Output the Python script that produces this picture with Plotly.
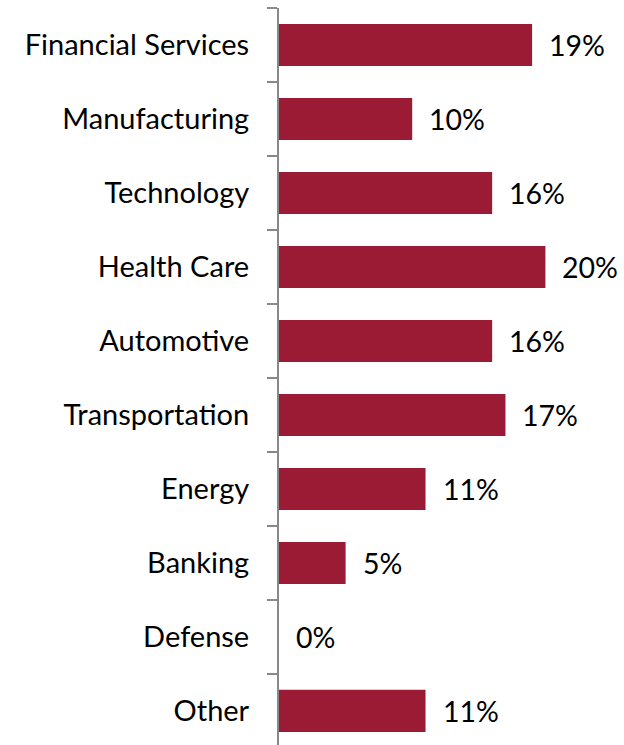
import plotly.graph_objects as go

categories = ["Financial Services", "Manufacturing", "Technology", "Health Care",
              "Automotive", "Transportation", "Energy", "Banking", "Defense", "Other"]
shares = [19, 10, 16, 20, 16, 17, 11, 5, 0, 11]
share_labels = [f"{v}%" for v in shares]

BAR_COLOR = "#9B1A34"
FONT = "Lato"
SIZE = 29

fig = go.Figure(go.Bar(
    x=shares,
    y=categories,
    orientation="h",
    marker=dict(color=BAR_COLOR, line=dict(width=0)),
    hoverinfo="skip",
))

for cat, val, lab in zip(categories, shares, share_labels):
    fig.add_annotation(
        x=val, y=cat, text=lab, showarrow=False,
        xanchor="left", yanchor="middle", xshift=15,
        font=dict(family=FONT, size=28.5, color="#000000"),
    )

fig.update_layout(
    width=624, height=745,
    margin=dict(l=279, r=0, t=8, b=0),
    paper_bgcolor="white", plot_bgcolor="white",
    bargap=0.43,
    showlegend=False,
    font=dict(family=FONT, size=SIZE, color="#000000"),
)
fig.update_xaxes(range=[0, 25.9], visible=False, showgrid=False, zeroline=False)
fig.update_yaxes(
    categoryorder="array", categoryarray=categories[::-1],
    range=[-0.46, 9.5],
    showline=True, linecolor="#888888", linewidth=2,
    ticks="outside", tickson="boundaries", ticklen=10, tickwidth=2, tickcolor="#888888",
    ticklabelstandoff=22,
    showgrid=False, zeroline=False,
    tickfont=dict(family=FONT, size=SIZE, color="#000000"),
)

fig.write_html("out.html")
